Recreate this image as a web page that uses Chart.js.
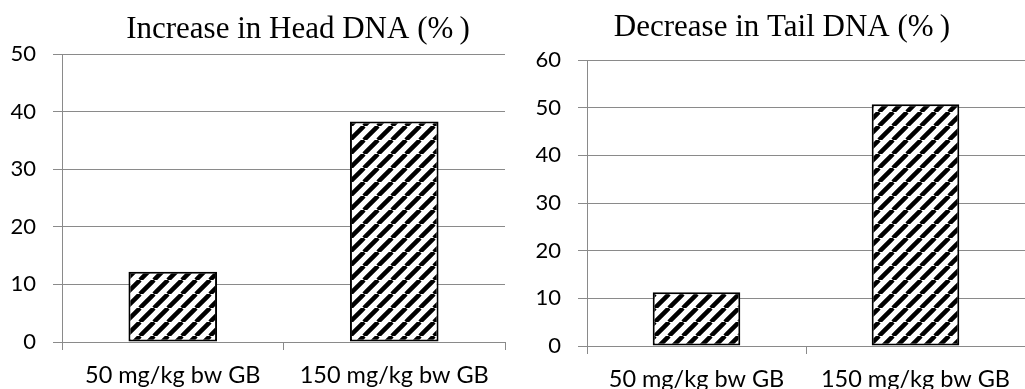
<!DOCTYPE html>
<html>
<head>
<meta charset="utf-8">
<script src="https://cdn.jsdelivr.net/npm/chart.js@4/dist/chart.umd.min.js"></script>
<style>
    body { margin: 0; background: #fff; }
    .panel { position: absolute; top: 0; }
</style>
</head>
<body>
<div class="panel" style="left:0"><canvas id="head-chart" width="515" height="389"></canvas></div>
<div class="panel" style="left:515px"><canvas id="tail-chart" width="510" height="389"></canvas></div>
<script>
const categories = ['50 mg/kg bw GB', '150 mg/kg bw GB'];
const headIncrease = [12.2, 38.3];
const tailDecrease = [11.3, 50.7];
const headTicks = [0, 10, 20, 30, 40, 50];
const tailTicks = [0, 10, 20, 30, 40, 50, 60];

const GRID = '#8a8a8a';

// diagonal black/white hatch used to fill the bars
function makeHatch() {
    const s = 14;
    const tile = document.createElement('canvas');
    tile.width = s;
    tile.height = s;
    const c = tile.getContext('2d');
    c.fillStyle = '#fff';
    c.fillRect(0, 0, s, s);
    c.strokeStyle = '#000';
    c.lineWidth = 4.5;
    c.beginPath();
    for (let k = -1; k <= 1; k++) {
        c.moveTo(k * s, s);
        c.lineTo(k * s + s, 0);
    }
    c.stroke();
    return c.createPattern(tile, 'repeat');
}

// serif heading drawn at a fixed spot above the plot
const headline = {
    id: 'headline',
    afterDraw(chart, args, opts) {
        const ctx = chart.ctx;
        ctx.save();
        ctx.font = '31px "Liberation Serif", "Times New Roman", serif';
        ctx.fillStyle = '#000';
        ctx.textAlign = 'center';
        ctx.textBaseline = 'alphabetic';
        ctx.fillText(opts.text, opts.x, opts.y);
        ctx.restore();
    }
};

function buildChart(id, values, ticks, cfg) {
    const ctx = document.getElementById(id).getContext('2d');
    return new Chart(ctx, {
        type: 'bar',
        data: {
            labels: categories,
            datasets: [{
                data: values,
                backgroundColor: makeHatch(),
                borderColor: '#000',
                borderWidth: 2,
                borderSkipped: false,
                categoryPercentage: 1,
                barPercentage: 0.4
            }]
        },
        options: {
            responsive: false,
            animation: false,
            layout: { padding: { top: cfg.top, right: cfg.right, left: 0, bottom: 0 } },
            plugins: {
                legend: { display: false },
                tooltip: { enabled: false },
                title: { display: false },
                headline: { text: cfg.title, x: cfg.titleX, y: cfg.titleY }
            },
            scales: {
                x: {
                    offset: true,
                    afterFit: (scale) => { scale.height = cfg.xHeight; },
                    grid: {
                        offset: true,
                        drawOnChartArea: false,
                        drawTicks: true,
                        tickLength: 8,
                        color: GRID
                    },
                    border: { display: true, color: GRID, width: 1 },
                    ticks: {
                        color: '#000',
                        padding: 11,
                        font: { family: 'Lato', size: 23.5 }
                    }
                },
                y: {
                    min: ticks[0],
                    max: ticks[ticks.length - 1],
                    afterFit: (scale) => { scale.width = cfg.yWidth; },
                    afterBuildTicks: (scale) => { scale.ticks = ticks.map(v => ({ value: v })); },
                    grid: { color: GRID, tickLength: 9, drawTicks: true },
                    border: { display: true, color: GRID, width: 1 },
                    ticks: {
                        color: '#000',
                        padding: 17,
                        font: { family: 'Lato', size: 22 }
                    }
                }
            }
        },
        plugins: [headline]
    });
}

buildChart('head-chart', headIncrease, headTicks, {
    title: 'Increase in Head DNA (%\u2009)',
    titleX: 298, titleY: 38,
    top: 54, right: 10, xHeight: 47, yWidth: 62
});

buildChart('tail-chart', tailDecrease, tailTicks, {
    title: 'Decrease in Tail DNA (%\u2009)',
    titleX: 267, titleY: 36,
    top: 60, right: 0, xHeight: 43, yWidth: 72
});
</script>
</body>
</html>
